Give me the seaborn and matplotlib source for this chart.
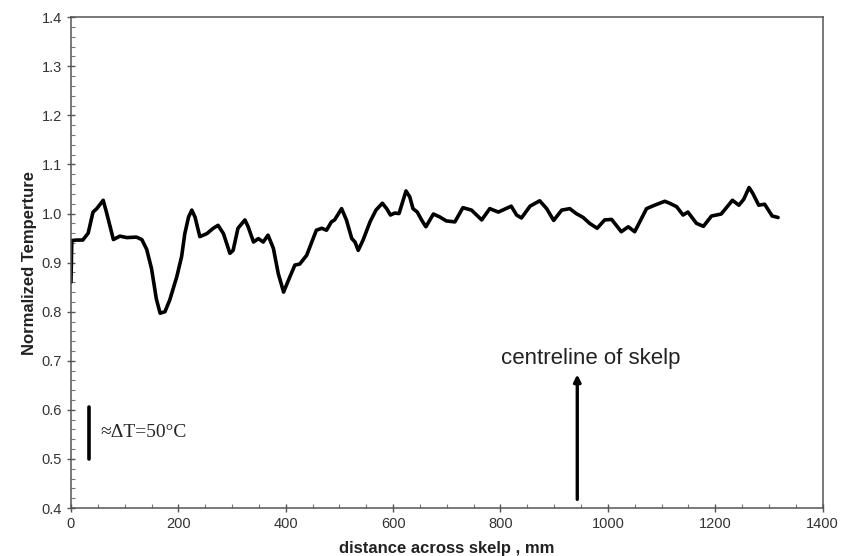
import matplotlib
matplotlib.use("Agg")
import matplotlib.pyplot as plt
from matplotlib.ticker import MultipleLocator
import pandas as pd
import seaborn as sns

# distance across skelp (mm) and normalized temperature
distance = [0, 1.5, 10, 22, 32, 41, 48, 53, 60, 66, 73, 79, 91, 104, 122, 132,
            141, 150, 159, 166, 175, 184, 197, 206, 212, 219, 225, 231, 240,
            253, 265, 274, 284, 296, 302, 311, 324, 330, 340, 349, 358, 367,
            377, 386, 396, 405, 417, 426, 439, 457, 467, 476, 485, 491, 504,
            513, 523, 529, 535, 544, 557, 568, 580, 588, 595, 603, 611, 624,
            631, 637, 645, 653, 661, 675, 687, 699, 715, 730, 746, 765, 780,
            796, 808, 820, 830, 839, 855, 873, 886, 899, 914, 929, 941, 954,
            966, 980, 994, 1007, 1025, 1038, 1050, 1072, 1087, 1106, 1115,
            1128, 1140, 1149, 1165, 1178, 1193, 1211, 1232, 1244, 1253, 1263,
            1270, 1281, 1292, 1306, 1317]
temperature = [0.86, 0.945, 0.946, 0.946, 0.96, 1.003, 1.01, 1.017, 1.027,
               1.003, 0.973, 0.947, 0.954, 0.951, 0.952, 0.947, 0.927, 0.888,
               0.826, 0.797, 0.80, 0.824, 0.871, 0.912, 0.959, 0.993, 1.007,
               0.993, 0.953, 0.959, 0.97, 0.976, 0.959, 0.919, 0.925, 0.97,
               0.987, 0.973, 0.942, 0.949, 0.942, 0.956, 0.929, 0.878, 0.84,
               0.864, 0.895, 0.897, 0.915, 0.966, 0.970, 0.966, 0.983, 0.987,
               1.010, 0.987, 0.949, 0.942, 0.925, 0.946, 0.983, 1.007, 1.021,
               1.010, 0.997, 1.001, 1.000, 1.046, 1.034, 1.010, 1.003, 0.987,
               0.973, 0.999, 0.993, 0.985, 0.983, 1.012, 1.007, 0.987, 1.010,
               1.003, 1.009, 1.015, 0.997, 0.991, 1.015, 1.026, 1.010, 0.986,
               1.007, 1.010, 1.000, 0.992, 0.980, 0.970, 0.987, 0.988, 0.963,
               0.973, 0.963, 1.010, 1.017, 1.025, 1.021, 1.014, 0.997, 1.003,
               0.980, 0.974, 0.995, 0.999, 1.027, 1.017, 1.029, 1.053, 1.041,
               1.017, 1.019, 0.995, 0.992]

df = pd.DataFrame({"distance": distance, "temperature": temperature})

sns.set_style("ticks")
plt.rcParams["font.family"] = ["Liberation Sans", "DejaVu Sans"]

fig = plt.figure(figsize=(8.42, 5.56), dpi=100)
ax = fig.add_axes([0.0843, 0.0863, 0.8927, 0.8827])

sns.lineplot(data=df, x="distance", y="temperature", color="black",
             linewidth=2.6, ax=ax)

ax.set_xlim(0, 1400)
ax.set_ylim(0.4, 1.4)
ax.xaxis.set_major_locator(MultipleLocator(200))
ax.xaxis.set_minor_locator(MultipleLocator(50))
ax.yaxis.set_major_locator(MultipleLocator(0.1))
ax.yaxis.set_minor_locator(MultipleLocator(0.02))
ax.yaxis.set_major_formatter(matplotlib.ticker.FormatStrFormatter("%.1f"))

ax.tick_params(which="major", direction="inout", length=6, width=1,
               color="#555555", labelcolor="#333333", labelsize=10.5)
ax.tick_params(which="minor", direction="in", length=3, width=0.8,
               color="#777777")
for s in ax.spines.values():
    s.set_color("#555555")
    s.set_linewidth(1.1)

ax.set_xlabel("distance across skelp , mm", fontsize=12, fontweight="bold",
              color="#222222", labelpad=7)
ax.set_ylabel("Normalized Temperture", fontsize=12, fontweight="bold",
              color="#222222", labelpad=3)

# scale bar
ax.plot([33, 33], [0.5, 0.605], color="black", linewidth=2.6)
ax.text(54, 0.553, "≈ΔT=50°C", fontsize=14, va="center", ha="left",
        family=["Liberation Serif", "DejaVu Serif"])

# centreline arrow
ax.annotate("", xy=(943, 0.678), xytext=(943, 0.412),
            arrowprops=dict(arrowstyle="-|>", color="black", lw=2.4,
                            mutation_scale=10))
ax.text(801, 0.705, "centreline of skelp", fontsize=16, va="center",
        ha="left", color="#222222")

fig.savefig("out.png", dpi=100)
